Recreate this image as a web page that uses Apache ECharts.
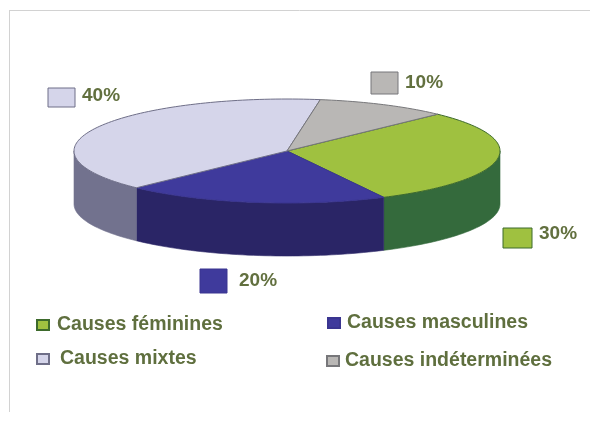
<!DOCTYPE html>
<html><head><meta charset="utf-8">
<style>html,body{margin:0;padding:0;background:#fff}#c{width:590px;height:438px}</style>
<script src="https://cdn.jsdelivr.net/npm/echarts@6/dist/echarts.min.js"></script>
</head><body><div id="c"></div>
<script>
var categories = ['Causes féminines','Causes masculines','Causes mixtes','Causes indéterminées'];
var shares = [30,20,40,10];
var topColors = ['#9fc140','#3f3a9c','#d5d5ea','#b9b7b5'];
var wallColors = ['#346a3c','#2a2566','#72728e','#8a8886'];
var edgeColors = ['#3d6a2c','#3a3590','#6f6f88','#77777a'];

var PX=287, PY=151, RX=213, RY=52, DEPTH=53, START=45;
function pt(t,dy){var r=t*Math.PI/180;return [PX+RX*Math.cos(r),PY-RY*Math.sin(r)+(dy||0)];}
function total(){return shares.reduce(function(a,b){return a+b;},0);}
function makeRender(i){
  return function(params,api){
    var before=api.value(1), val=api.value(0), T=total();
    var a=START-before/T*360, b=a-val/T*360;
    var topPts=[[PX,PY]], t;
    for(t=a;t>b;t-=1.5) topPts.push(pt(t));
    topPts.push(pt(b));
    var kids=[];
    var w1=Math.min(a,0), w2=Math.max(b,-180);
    if(w1>w2){
      var up=[],down=[];
      for(t=w1;t>w2;t-=1.5){up.push(pt(t));down.unshift(pt(t,DEPTH));}
      up.push(pt(w2));down.unshift(pt(w2,DEPTH));
      kids.push({type:'polygon',shape:{points:up.concat(down)},style:{fill:wallColors[i],stroke:wallColors[i],lineWidth:0.6}});
    }
    kids.push({type:'polygon',shape:{points:topPts},style:{fill:topColors[i],stroke:edgeColors[i],lineWidth:1}});
    return {type:'group',children:kids};
  };
}
var series=categories.map(function(n,i){
  var before=shares.slice(0,i).reduce(function(a,b){return a+b;},0);
  return {type:'custom',name:n,coordinateSystem:'none',silent:true,animation:false,
    itemStyle:{color:topColors[i],borderColor:edgeColors[i],borderWidth:0.5},
    renderItem:makeRender(i),data:[[shares[i],before]]};
});
var legendPos=[[36,315],[327,313],[36,349],[326,351]];
var legendGap=[8,7,11,6];
var legends=categories.map(function(n,i){
  return {data:[n],left:legendPos[i][0],top:legendPos[i][1],icon:'rect',itemWidth:12,itemHeight:10,itemGap:0,padding:0,
    selectedMode:false,
    textStyle:{fontFamily:'Liberation Sans',fontWeight:'bold',fontSize:19.5,color:'#5f6f3e',padding:[0,0,0,legendGap[i]-5]}};
});
var callouts=[[503,228,29,20,539,234],[200,269,27,24,239,281],[48,88,27,19,82,96],[371,72,27,22,405,83]];
var graphics=[
  {type:'line',shape:{x1:9,y1:10.5,x2:590,y2:10.5},style:{stroke:'#d2d2d2',lineWidth:1}},
  {type:'line',shape:{x1:9.5,y1:10,x2:9.5,y2:412},style:{stroke:'#d2d2d2',lineWidth:1}}
];
callouts.forEach(function(c,i){
  graphics.push({type:'rect',shape:{x:c[0],y:c[1],width:c[2],height:c[3]},style:{fill:topColors[i],stroke:edgeColors[i],lineWidth:1}});
  graphics.push({type:'text',style:{x:c[4],y:c[5],text:shares[i]+'%',fill:'#62703f',font:'bold 19px "Liberation Sans"',verticalAlign:'middle'}});
});
var chart=echarts.init(document.getElementById('c'),null,{renderer:'canvas'});
chart.setOption({animation:false,backgroundColor:'#fff',legend:legends,series:series,graphic:graphics});
</script></body></html>
